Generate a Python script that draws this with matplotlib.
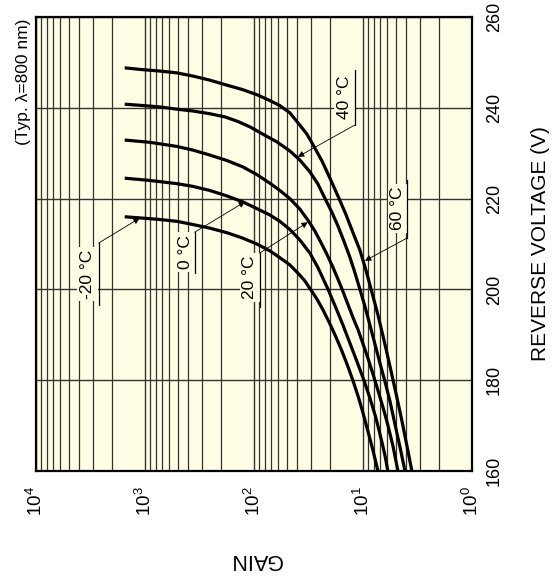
import matplotlib
matplotlib.use("Agg")
import matplotlib.pyplot as plt
from matplotlib.ticker import FixedLocator, LogLocator, NullFormatter

plt.rcParams['font.family'] = ['Liberation Sans', 'DejaVu Sans']
plt.rcParams['mathtext.default'] = 'regular'

# ---------------- data ----------------
temps = ["-20 °C", "0 °C", "20 °C", "40 °C", "60 °C"]

v_m20 = [216.0, 215.7, 215.4, 215.0, 214.3, 213.5, 212.5, 211.3, 210.0, 208.5, 207.0, 205.4,
         203.6, 201.9, 199.9, 197.9, 195.5, 192.4, 189.5, 186.4, 183.1, 180.0, 176.5, 172.8,
         168.8, 164.6, 160.0]
g_m20 = [1536, 1050, 733, 512, 365, 255, 178, 127, 94.3, 71.6, 58.0, 46.9,
         39.6, 34.2, 30.1, 26.5, 23.3, 20.1, 17.7, 15.6, 13.8, 12.4, 11.1, 10.0,
         9.02, 8.11, 7.30]

v_0 = [224.5, 224.0, 223.3, 222.7, 221.8, 220.6, 219.3, 217.8, 216.4, 215.0, 213.2, 210.9,
       208.0, 204.8, 200.1, 195.9, 192.2, 188.2, 184.2, 180.0, 176.1, 171.7, 166.4, 163.5, 160.0]
g_0 = [1536, 905, 512, 365, 255, 178, 127, 94.3, 71.6, 58.0, 46.9, 38.0,
       30.7, 25.9, 21.0, 17.7, 15.3, 13.2, 11.4, 9.81, 8.65, 7.61, 6.71, 6.30, 5.91]

v_20 = [232.9, 232.4, 231.5, 230.7, 229.6, 228.4, 227.0, 225.3, 223.4, 221.8, 220.0, 217.7,
        215.3, 212.9, 210.4, 207.8, 204.9, 202.3, 199.6, 196.8, 193.9, 191.1, 188.0, 184.9,
        181.4, 177.8, 174.1, 170.1, 165.5, 160.0]
g_20 = [1536, 905, 512, 365, 255, 178, 127, 94.3, 71.6, 58.0, 46.9, 38.0,
        32.1, 27.7, 24.4, 21.5, 18.9, 17.0, 15.3, 13.8, 12.4, 11.1, 10.0, 9.02,
        8.11, 7.30, 6.57, 5.91, 5.31, 4.78]

v_40 = [240.8, 240.5, 240.2, 239.7, 239.3, 238.7, 238.0, 237.0, 235.8, 234.2, 232.5, 230.5,
        228.5, 225.9, 223.2, 220.1, 217.0, 214.0, 210.7, 207.1, 203.8, 200.1, 196.3, 192.2,
        188.0, 183.8, 179.8, 175.4, 170.4, 165.3, 160.0]
g_40 = [1536, 1050, 733, 512, 365, 255, 185, 141, 109, 83.0, 61.7, 46.9,
        38.0, 30.7, 25.9, 22.4, 19.3, 17.0, 15.0, 13.2, 11.9, 10.7, 9.61, 8.65,
        7.78, 7.00, 6.30, 5.66, 5.10, 4.58, 4.12]

v_60 = [248.8, 248.4, 248.1, 247.7, 247.0, 246.1, 245.0, 244.0, 242.9, 241.6, 240.5, 238.9,
        236.2, 234.2, 231.9, 228.3, 224.5, 220.6, 216.6, 212.6, 208.7, 204.3, 199.4, 194.4,
        188.9, 183.1, 177.2, 171.0, 165.5, 160.0]
g_60 = [1536, 1050, 733, 512, 365, 255, 178, 127, 94.3, 71.6, 58.0, 46.9,
        38.0, 32.7, 28.8, 23.8, 20.1, 17.0, 14.4, 12.4, 10.7, 9.41, 8.29, 7.30,
        6.43, 5.66, 4.99, 4.39, 3.95, 3.56]

series = [(v_m20, g_m20), (v_0, g_0), (v_20, g_20), (v_40, g_40), (v_60, g_60)]

gain_ticks = [1e4, 1e3, 1e2, 1e1, 1e0]
gain_tick_labels = ["$10^{4}$", "$10^{3}$", "$10^{2}$", "$10^{1}$", "$10^{0}$"]
volt_ticks = [160, 180, 200, 220, 240, 260]

# ---------------- figure ----------------
BG = '#FFFDE4'
fig = plt.figure(figsize=(5.53, 5.85), dpi=100)
ax = fig.add_axes([36/553, 1-471/585, (472-36)/553, (471-17)/585])
ax.set_facecolor(BG)

ax.set_xscale('log')
ax.set_xlim(1e4, 1e0)
ax.set_ylim(160, 260)

for vs, gs in series:
    ax.plot(gs, vs, color='black', lw=2.3, solid_capstyle='butt',
            solid_joinstyle='round', zorder=4)

ax.xaxis.set_major_locator(FixedLocator(gain_ticks))
ax.set_xticklabels(gain_tick_labels)
ax.xaxis.set_minor_locator(LogLocator(base=10, subs=[2, 3, 4, 5, 6, 7, 8, 9]))
ax.xaxis.set_minor_formatter(NullFormatter())
ax.set_yticks(volt_ticks)
ax.yaxis.tick_right()

ax.tick_params(axis='both', which='both', length=0)
ax.tick_params(axis='x', labelrotation=90, pad=11, labelsize=13.5)
ax.tick_params(axis='y', labelrotation=90, pad=10, labelsize=13)
for lab in ax.get_yticklabels():
    lab.set_verticalalignment('center')

ax.set_axisbelow(True)
ax.grid(True, which='major', axis='both', color='#333333', lw=1.0)
ax.grid(True, which='minor', axis='x', color='#333333', lw=0.9)
for s in ax.spines.values():
    s.set_linewidth(1.6)
    s.set_color('black')

# ---------------- temperature labels with leaders ----------------
# (text gain, text V, underline gain, underline V from, to, leader start V, leader tip gain, tip V)
annots = [
    (3360, 203.4, 2661, 210.2, 196.6, 210.2, 1119, 215.7),
    (423, 208.2, 350, 212.6, 203.6, 212.6, 121, 219.3),
    (109, 202.7, 88.5, 208.0, 196.1, 208.0, 32.1, 214.8),
    (14.7, 242.4, 11.9, 248.3, 236.2, 236.2, 39.6, 229.2),
    (4.78, 217.9, 3.95, 224.1, 211.3, 211.3, 9.6, 206.3),
]
for name, (tg, tv, ug, u1, u2, ls, ag, av) in zip(temps, annots):
    ax.text(tg, tv, name, rotation=90, ha='center', va='center', fontsize=12.5,
            zorder=3, bbox=dict(facecolor=BG, edgecolor='none', pad=2))
    ax.plot([ug, ug], [u1, u2], color='black', lw=0.9, zorder=5)
    ax.annotate('', xy=(ag, av), xytext=(ug, ls),
                arrowprops=dict(arrowstyle='-|>', color='black', lw=0.6,
                                mutation_scale=9, shrinkA=0, shrinkB=0),
                zorder=5)

# ---------------- titles ----------------
fig.text(24/553, 1-19/585, "(Typ. λ=800 nm)", rotation=90, ha='center', va='top', fontsize=12.5)
fig.text(541/553, 1-244/585, "REVERSE VOLTAGE (V)", rotation=90, ha='center', va='center', fontsize=15)
fig.text(256/553, 1-560/585, "GAIN", rotation=180, ha='center', va='center', fontsize=15.5)

fig.savefig("out.png", dpi=100, facecolor='white')
